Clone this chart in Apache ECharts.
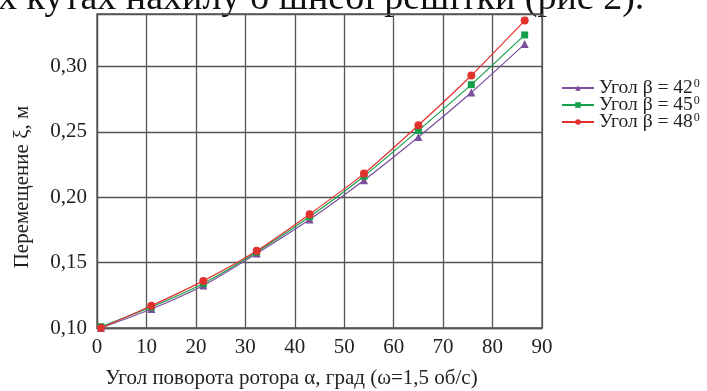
<!DOCTYPE html>
<html>
<head>
<meta charset="utf-8">
<script src="https://cdn.jsdelivr.net/npm/echarts@6/dist/echarts.min.js"></script>
<style>
  html, body { margin: 0; padding: 0; background: #fff; }
  #chart { width: 707px; height: 391px; }
</style>
</head>
<body>
<div id="chart"></div>
<script>
// angle of rotor rotation, deg
const alpha = [0.8, 11, 21.5, 32.3, 43, 54, 65, 75.7, 86.5]
// displacement, m
const beta42 = [0.100, 0.1145, 0.1325, 0.157, 0.183, 0.213, 0.246, 0.280, 0.317]
const beta45 = [0.101, 0.116, 0.134, 0.158, 0.185, 0.216, 0.251, 0.286, 0.324]
const beta48 = [0.100, 0.117, 0.136, 0.159, 0.187, 0.218, 0.255, 0.293, 0.335]
const seriesNames = ['Угол β = 42', 'Угол β = 45', 'Угол β = 48']
const colors = ['#7b4f9d', '#17a04c', '#e2322f']
const symbols = ['triangle', 'rect', 'circle']

const font = 'Liberation Serif'
const chart = echarts.init(document.getElementById('chart'))

const pairs = arr => alpha.map((a, i) => [a, arr[i]])

const option = {
  backgroundColor: '#fff',
  animation: false,
  textStyle: { fontFamily: font },
  grid: {
    left: 97,
    right: 165,
    top: 14,
    bottom: 63,
    outerBoundsMode: 'none',
    show: true,
    borderColor: '#555',
    borderWidth: 1.3,
  },
  legend: {
    orient: 'vertical',
    left: 556,
    top: 73,
    itemGap: -3,
    itemWidth: 32,
    itemHeight: 7,
    data: seriesNames,
    // degree mark is a small raised zero, as in the source figure
    formatter: name => `{a|${name}}{s|0}`,
    textStyle: {
      color: '#222',
      rich: {
        a: { fontFamily: font, fontSize: 19.5, lineHeight: 17, color: '#222' },
        s: { fontFamily: font, fontSize: 12, lineHeight: 10, color: '#222', padding: [0, 0, 8, 1] },
      },
    },
  },
  xAxis: {
    type: 'value',
    min: 0,
    max: 90,
    interval: 10,
    name: 'Угол поворота ротора α, град (ω=1,5 об/с)',
    nameLocation: 'middle',
    nameGap: 40,
    nameTextStyle: { fontFamily: font, fontSize: 21, color: '#222', padding: [0, 0, 0, -56] },
    axisLine: { lineStyle: { color: '#555', width: 1.3 } },
    axisTick: { show: false },
    axisLabel: { fontFamily: font, fontSize: 21, color: '#222', margin: 9 },
    splitLine: { lineStyle: { color: '#555', width: 1.3 } },
  },
  yAxis: {
    type: 'value',
    min: 0.1,
    max: 0.34,
    interval: 0.05,
    axisLine: { show: true, lineStyle: { color: '#555', width: 1.3 } },
    axisTick: { show: false },
    axisLabel: {
      fontFamily: font,
      fontSize: 21,
      color: '#222',
      margin: 10,
      showMaxLabel: false,
      formatter: v => v.toFixed(2).replace('.', ','),
    },
    splitLine: { lineStyle: { color: '#555', width: 1.3 } },
  },
  graphic: [
    {
      type: 'text',
      left: -2,
      top: -20,
      style: {
        text: 'х кутах нахилу б шнеої решітки (рис 2).',
        fontFamily: font,
        fontSize: 38,
        fill: '#111',
      },
    },
    {
      // y axis title
      type: 'text',
      x: 22,
      y: 187,
      rotation: Math.PI / 2,
      style: {
        text: 'Перемещение ξ, м',
        fontFamily: font,
        fontSize: 21,
        fill: '#222',
        align: 'center',
        verticalAlign: 'middle',
      },
    },
  ],
  series: [beta42, beta45, beta48].map((arr, i) => ({
    name: seriesNames[i],
    type: 'line',
    data: pairs(arr),
    smooth: 0.2,
    symbol: symbols[i],
    symbolSize: i === 1 ? 7 : 8,
    color: colors[i],
    lineStyle: { width: 1.2, color: colors[i] },
    itemStyle: { color: colors[i] },
    z: 3 + i,
  })),
}

chart.setOption(option)
</script>
</body>
</html>
